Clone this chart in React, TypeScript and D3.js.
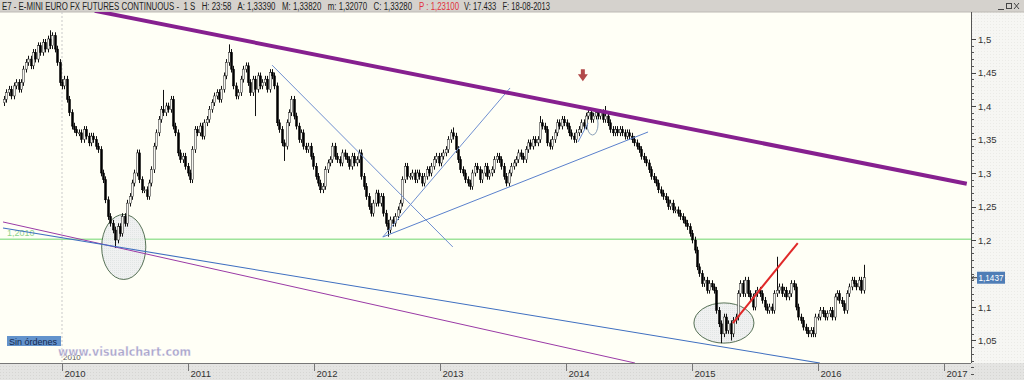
import React from 'react';
import * as d3 from 'd3';

const W = 1024;
const H = 380;

// ---- data ----
const firstWeek = new Date(2009, 6, 17);
const firstOpen = 1.405;
const closes = [
  1.410, 1.420, 1.425, 1.415, 1.430, 1.435, 1.425,
  1.435, 1.455, 1.465, 1.470, 1.460, 1.480, 1.470,
  1.490, 1.480, 1.495, 1.485, 1.500, 1.490, 1.505,
  1.485, 1.465, 1.435, 1.430,
  1.440, 1.410, 1.390, 1.370, 1.365, 1.360,
  1.360, 1.350, 1.365, 1.355, 1.345, 1.355, 1.350, 1.340,
  1.335, 1.300, 1.290, 1.260,
  1.235, 1.225, 1.215, 1.200,
  1.220, 1.210, 1.235, 1.225,
  1.255, 1.265, 1.285, 1.300, 1.330,
  1.290, 1.275, 1.275, 1.265, 1.285,
  1.305, 1.340, 1.360, 1.380, 1.395,
  1.390, 1.400, 1.395, 1.410, 1.370,
  1.360, 1.330, 1.320, 1.325,
  1.310, 1.300, 1.290, 1.335, 1.365, 1.360,
  1.370, 1.355, 1.375, 1.380, 1.395, 1.405,
  1.415, 1.420, 1.410, 1.425, 1.445, 1.465,
  1.480,
  1.455, 1.430, 1.415, 1.420, 1.440, 1.455, 1.460, 1.435, 1.420, 1.440, 1.425, 1.445, 1.430, 1.435, 1.440, 1.425, 1.450, 1.445, 1.430,
  1.375, 1.365, 1.345, 1.340, 1.375, 1.390, 1.410, 1.385,
  1.370, 1.350, 1.360, 1.340, 1.335, 1.340, 1.325, 1.310, 1.295, 1.285, 1.275, 1.280,
  1.305, 1.315, 1.320, 1.340, 1.325, 1.320, 1.315, 1.330, 1.325, 1.320, 1.310, 1.325, 1.315, 1.320, 1.330,
  1.295, 1.280, 1.265, 1.250, 1.240, 1.255, 1.270, 1.255, 1.265, 1.240, 1.225, 1.215, 1.230, 1.225, 1.235, 1.245, 1.255,
  1.290, 1.310, 1.295, 1.295, 1.300, 1.290, 1.300, 1.295, 1.285, 1.295, 1.305, 1.300, 1.310, 1.320, 1.325, 1.315, 1.325, 1.330,
  1.335, 1.350, 1.360, 1.355, 1.335, 1.320, 1.305, 1.300, 1.290, 1.285, 1.280,
  1.300, 1.310, 1.305, 1.290, 1.300, 1.310, 1.295, 1.300, 1.305, 1.320, 1.325, 1.320, 1.310, 1.295, 1.285, 1.300, 1.310, 1.315, 1.320, 1.330, 1.325, 1.320, 1.335, 1.345, 1.340, 1.350, 1.345, 1.350,
  1.375, 1.370, 1.365, 1.345, 1.340, 1.350, 1.360, 1.375, 1.370, 1.380, 1.375, 1.370, 1.360, 1.355, 1.350, 1.360, 1.365, 1.375,
  1.370, 1.385, 1.390, 1.380, 1.385, 1.390, 1.385, 1.390, 1.380, 1.385, 1.375, 1.365, 1.360, 1.365, 1.360, 1.365, 1.360, 1.355, 1.360, 1.355, 1.350, 1.345, 1.340, 1.335, 1.325, 1.320, 1.315, 1.305, 1.295, 1.290, 1.285, 1.275, 1.270, 1.265, 1.260, 1.250, 1.255, 1.245, 1.245, 1.240, 1.235, 1.230,
  1.225, 1.220, 1.210, 1.200, 1.185, 1.160, 1.150, 1.135, 1.140, 1.125, 1.135, 1.130, 1.125, 1.095, 1.075, 1.060, 1.085, 1.065, 1.075, 1.060, 1.080, 1.085, 1.120, 1.135, 1.120, 1.140, 1.120,
  1.115, 1.100, 1.120, 1.125, 1.120, 1.110, 1.100, 1.095, 1.100, 1.095, 1.120, 1.125, 1.130, 1.120, 1.125, 1.115, 1.120, 1.135, 1.130,
  1.100, 1.085, 1.080, 1.070, 1.065, 1.060, 1.065, 1.060,
  1.085, 1.085, 1.095, 1.090, 1.085, 1.090, 1.095, 1.085, 1.115, 1.120, 1.110, 1.105, 1.095, 1.120, 1.130, 1.140, 1.135, 1.130, 1.140, 1.125, 1.1437,
];
// notable wicks: [week index, high, low]
const spikes: [number, number | null, number | null][] = [
  [19, 1.513, null], [93, 1.492, null], [46, null, 1.188], [104, null, 1.385],
  [116, null, 1.318], [159, null, 1.205], [186, 1.368, null], [222, 1.385, null],
  [249, 1.400, null], [297, null, 1.046], [301, null, 1.050], [320, 1.175, null],
  [333, null, 1.055], [356, 1.163, null], [66, 1.424, null],
];
const wick = 0.005;

const yMajor = [1.05, 1.1, 1.2, 1.25, 1.3, 1.35, 1.4, 1.45, 1.5];
const yMajorLabels = ['1,05', '1,1', '1,2', '1,25', '1,3', '1,35', '1,4', '1,45', '1,5'];
const yMinor = d3.range(100, 151).map((v) => v / 100);
const years = [2010, 2011, 2012, 2013, 2014, 2015, 2016, 2017];
const lastPrice = 1.1437;
const lastLabel = '1,1437';
const supportLevel = 1.201;
const supportLabel = '1,2010';

const thickChannel: [string, number][] = [['2010-04-06', 1.542], ['2017-03-08', 1.284]];
const lowerBlue: [string, number][] = [['2009-07-14', 1.218], ['2016-01-07', 1.0164]];
const lowerPurple: [string, number][] = [['2009-07-14', 1.2269], ['2014-07-20', 1.0164]];
const blueDown: [string, number][] = [['2011-09-02', 1.461], ['2013-02-07', 1.1896]];
const blueUpSteep: [string, number][] = [['2012-07-19', 1.2045], ['2013-07-23', 1.4269]];
const blueUpShallow: [string, number][] = [['2012-07-19', 1.2045], ['2014-08-27', 1.3612]];
const blueTiny: [string, number][] = [['2014-02-05', 1.3463], ['2014-03-06', 1.3746]];
const redUp: [string, number][] = [['2015-04-30', 1.0761], ['2015-11-04', 1.1955]];
// ellipses: center date, center price, half-width days, half-height price
const ellipses: [string, number, number, number, string][] = [
  ['2010-06-29', 1.1896, 64, 0.0485, 'big'],
  ['2015-04-04', 1.0761, 87, 0.030, 'big'],
  ['2014-03-19', 1.3731, 16, 0.0164, 'small'],
];
const arrowMark: [string, number, number] = ['2014-02-19', 1.455, 1.437];

const headerParts: [string, string, number, number][] = [
  ['E7 - E-MINI EURO FX FUTURES CONTINUOUS -  1 S   H: 23:58   A: 1,33390   M: 1,33820   m: 1,32070   C: 1,33280', '#222', 2, 410],
  ['P : 1,23100', '#e0303a', 419, 40],
  ['V: 17.433   F: 18-08-2013', '#222', 464, 86],
];

const parse = d3.timeParse('%Y-%m-%d');

export default function App() {
  const x = d3.scaleTime().domain([new Date(2010, 0, 1), new Date(2017, 0, 1)]).range([62, 944]);
  const y = d3.scaleLinear().domain([1.0, 1.5]).range([374, 39]);
  const plotRight = 971;
  const plotTop = 12;
  const plotBottom = 363;

  const candles = closes.map((c, i) => {
    const o = i === 0 ? firstOpen : closes[i - 1];
    const date = d3.timeDay.offset(firstWeek, 7 * i);
    let hi = Math.max(o, c) + wick;
    let lo = Math.min(o, c) - wick;
    const s = spikes.find((k) => k[0] === i);
    if (s) {
      if (s[1] != null) hi = s[1];
      if (s[2] != null) lo = s[2];
    }
    return { date, o, c, hi, lo };
  });

  const seg = (p: [string, number][]) => ({
    x1: x(parse(p[0][0])!), y1: y(p[0][1]), x2: x(parse(p[1][0])!), y2: y(p[1][1]),
  });

  const bw = 2;
  const font = 'Liberation Sans, Arial, sans-serif';

  const tc = seg(thickChannel);
  const lb = seg(lowerBlue);
  const lp = seg(lowerPurple);
  const bd = seg(blueDown);
  const bus = seg(blueUpSteep);
  const bush = seg(blueUpShallow);
  const bt = seg(blueTiny);
  const ru = seg(redUp);

  const ax = x(parse(arrowMark[0])!);
  const aTop = y(arrowMark[1]);
  const aTip = y(arrowMark[2]);

  return (
    <svg width={W} height={H} style={{ position: 'fixed', left: 0, top: 0, display: 'block' }}>
      <defs>
        <pattern id="dots" width="3" height="3" patternUnits="userSpaceOnUse">
          <rect width="3" height="3" fill="#e4e4e2" />
          <rect width="1" height="1" fill="#d6d6d3" />
        </pattern>
        <pattern id="dots2" width="3" height="3" patternUnits="userSpaceOnUse">
          <rect width="3" height="3" fill="#f6f6f3" />
          <rect width="1" height="1" fill="#ebebe7" />
        </pattern>
        <pattern id="ell" width="2" height="2" patternUnits="userSpaceOnUse">
          <rect width="2" height="2" fill="#eef0f0" />
          <rect width="1" height="1" fill="#dfe3e3" />
        </pattern>
        <clipPath id="plot">
          <rect x={0} y={plotTop} width={plotRight} height={plotBottom - plotTop} />
        </clipPath>
      </defs>
      {/* backgrounds */}
      <rect x={0} y={0} width={W} height={H} fill="#fffff6" />
      <rect x={plotRight} y={plotTop} width={W - plotRight} height={plotBottom - plotTop} fill="url(#dots2)" />
      <rect x={0} y={plotBottom} width={W} height={H - plotBottom} fill="url(#dots)" />
      <rect x={0} y={0} width={W} height={plotTop} fill="#d5d2cd" />
      <line x1={0} x2={W} y1={plotTop} y2={plotTop} stroke="#bdbab4" />

      {/* header */}
      <text y={9.5} fontFamily={font} fontSize={10} style={{ whiteSpace: 'pre' }}>
        {headerParts.map(([t, col, x0, len], i) => (
          <tspan key={i} x={x0} fill={col} textLength={len} lengthAdjust="spacingAndGlyphs">{t}</tspan>
        ))}
      </text>
      {/* window buttons */}
      <g stroke="#444" fill="none" strokeWidth={1}>
        <line x1={998} x2={1004} y1={9.5} y2={9.5} />
        <rect x={1006.5} y={3.5} width={5} height={5} />
        <line x1={1014} x2={1019} y1={3} y2={9} />
        <line x1={1019} x2={1014} y1={3} y2={9} />
      </g>

      <g clipPath="url(#plot)">
        {/* 2010 dotted vertical */}
        <line x1={x(new Date(2010, 0, 1))} x2={x(new Date(2010, 0, 1))} y1={plotTop} y2={plotBottom}
          stroke="#c9c9c9" strokeDasharray="2,2" />
        {/* support level */}
        <line x1={0} x2={plotRight} y1={y(supportLevel)} y2={y(supportLevel)} stroke="#9ee49a" strokeWidth={1.5} />
        <text x={7} y={y(supportLevel) - 3} fontFamily={font} fontSize={9} fill="#8fd28b">{supportLabel}</text>

        {/* ellipses */}
        {ellipses.map(([d, p, rd, rp, kind], i) => {
          const cx = x(parse(d)!);
          const cy = y(p);
          const rx = x(d3.timeDay.offset(parse(d)!, rd)) - cx;
          const ry = y(p - rp) - cy;
          return kind === 'big' ? (
            <ellipse key={i} cx={cx} cy={cy} rx={rx} ry={ry} fill="url(#ell)" fillOpacity={0.9} stroke="#2f4f2f" strokeWidth={0.8} />
          ) : (
            <ellipse key={i} cx={cx} cy={cy} rx={rx} ry={ry} fill="none" stroke="#8aa0b8" strokeWidth={1} />
          );
        })}

        {/* candles */}
        {candles.map((k, i) => {
          const cx = Math.round(x(k.date)) + 0.5;
          const up = k.c >= k.o;
          const top = y(Math.max(k.o, k.c));
          const bot = y(Math.min(k.o, k.c));
          return (
            <g key={i}>
              <line x1={cx} x2={cx} y1={y(k.hi)} y2={y(k.lo)} stroke="#111" strokeWidth={1} />
              <rect x={cx - bw / 2} y={top} width={bw} height={Math.max(1, bot - top)}
                fill={up ? '#f4f4ee' : '#000'} stroke={up ? '#222' : '#000'} strokeWidth={0.5} />
            </g>
          );
        })}

        {/* trend lines */}
        <line {...lp} stroke="#9a3aa6" strokeWidth={1} />
        <line {...lb} stroke="#3f6fc0" strokeWidth={1.1} />
        <line {...bd} stroke="#6f8fd0" strokeWidth={1} />
        <line {...bus} stroke="#6f8fd0" strokeWidth={1} />
        <line {...bush} stroke="#5a80cc" strokeWidth={1} />
        <line {...bt} stroke="#6f8fd0" strokeWidth={1} />
        <line {...tc} stroke="#86208f" strokeWidth={4} />
        <line {...ru} stroke="#e02828" strokeWidth={2} />

        {/* arrow */}
        <path d={`M${ax - 2},${aTop} L${ax + 2},${aTop} L${ax + 2},${aTop + 5} L${ax + 5},${aTop + 5} L${ax},${aTip} L${ax - 5},${aTop + 5} L${ax - 2},${aTop + 5} Z`}
          fill="#b24a4a" />
      </g>

      {/* right axis */}
      <line x1={plotRight + 0.5} x2={plotRight + 0.5} y1={plotTop} y2={plotBottom} stroke="#555" />
      {yMinor.map((v, i) => (
        <line key={i} x1={plotRight} x2={plotRight + 3} y1={Math.round(y(v)) + 0.5} y2={Math.round(y(v)) + 0.5} stroke="#555" />
      ))}
      {yMajor.map((v, i) => (
        <g key={i}>
          <line x1={plotRight} x2={plotRight + 5} y1={Math.round(y(v)) + 0.5} y2={Math.round(y(v)) + 0.5} stroke="#444" />
          <text x={plotRight + 7} y={y(v) + 3.5} fontFamily={font} fontSize={9.5} fill="#333">{yMajorLabels[i]}</text>
        </g>
      ))}
      {/* last price tag */}
      <rect x={plotRight + 6} y={y(lastPrice) - 6} width={28} height={12} fill="#4f7db6" />
      <text x={plotRight + 7.5} y={y(lastPrice) + 3.5} fontFamily={font} fontSize={9} fill="#fff"
        textLength={25} lengthAdjust="spacingAndGlyphs">{lastLabel}</text>
      <path d={`M${plotRight + 1},${y(lastPrice)} L${plotRight + 6},${y(lastPrice)} M${plotRight + 1},${y(lastPrice)} L${plotRight + 3},${y(lastPrice) - 2} M${plotRight + 1},${y(lastPrice)} L${plotRight + 3},${y(lastPrice) + 2}`}
        stroke="#333" fill="none" />

      {/* bottom axis */}
      <line x1={0} x2={plotRight} y1={plotBottom + 0.5} y2={plotBottom + 0.5} stroke="#777" />
      {years.map((yr) => {
        const px = Math.round(x(new Date(yr, 0, 1))) + 0.5;
        return (
          <g key={yr}>
            <line x1={px} x2={px} y1={plotBottom} y2={plotBottom + 8} stroke="#777" />
            <text x={px + 2} y={plotBottom + 14} fontFamily={font} fontSize={9.5} fill="#333">{yr}</text>
          </g>
        );
      })}
      <text x={x(new Date(2010, 0, 1)) + 1} y={plotBottom - 3} fontFamily={font} fontSize={8} fill="#555">2010</text>

      {/* badges */}
      <rect x={7} y={336} width={54} height={10} fill="#6393cc" />
      <text x={9} y={344.5} fontFamily={font} fontSize={9} fill="#14284e">Sin órdenes</text>
      <text x={58} y={356} fontFamily="DejaVu Sans, sans-serif" fontWeight="bold" fontSize={11.5} fill="#aaa5cb"
        stroke="#fff" strokeWidth={0.3} textLength={133} lengthAdjust="spacingAndGlyphs">www.visualchart.com</text>
    </svg>
  );
}
